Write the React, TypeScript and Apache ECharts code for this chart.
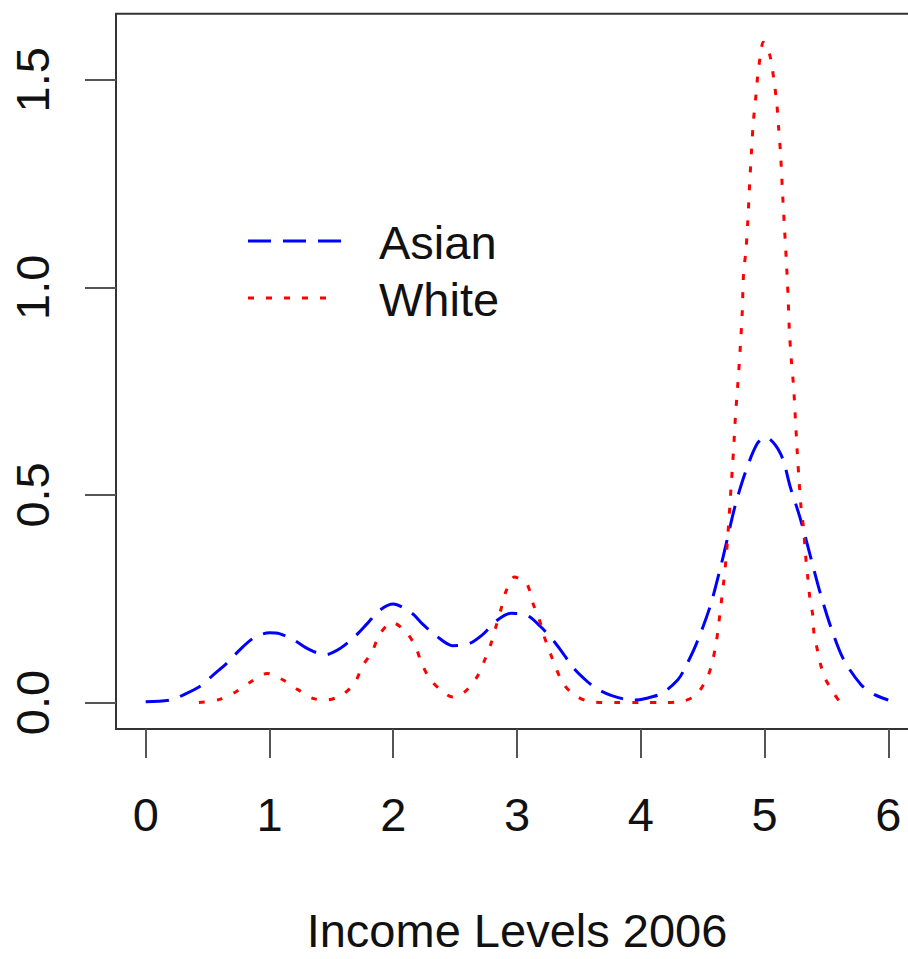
import React, { useEffect, useRef } from "react";
import * as echarts from "echarts";

const xTicks = [0, 1, 2, 3, 4, 5, 6];
const yTicks = [0, 0.5, 1.0, 1.5];
const seriesNames = ["Asian", "White"];
const xTitle = "Income Levels 2006";

const asianDensity: [number, number][] = [
  [0.0, 0.002], [0.2, 0.006], [0.31, 0.019], [0.45, 0.041], [0.54, 0.065],
  [0.66, 0.096], [0.76, 0.127], [0.88, 0.157], [1.0, 0.168], [1.08, 0.166],
  [1.2, 0.15], [1.32, 0.128], [1.45, 0.115], [1.57, 0.13], [1.69, 0.159],
  [1.79, 0.19], [1.89, 0.222], [2.0, 0.237], [2.15, 0.215], [2.24, 0.188],
  [2.35, 0.16], [2.48, 0.137], [2.6, 0.14], [2.72, 0.163], [2.84, 0.198],
  [2.95, 0.215], [3.08, 0.21], [3.19, 0.183], [3.3, 0.147], [3.38, 0.115],
  [3.46, 0.082], [3.57, 0.05], [3.64, 0.034], [3.76, 0.017], [3.87, 0.008],
  [3.95, 0.006], [4.03, 0.009], [4.17, 0.022], [4.3, 0.055], [4.35, 0.079],
  [4.45, 0.142], [4.56, 0.231], [4.64, 0.32], [4.69, 0.382], [4.76, 0.471],
  [4.84, 0.55], [4.94, 0.623], [5.01, 0.639], [5.13, 0.599], [5.21, 0.517],
  [5.29, 0.442], [5.37, 0.353], [5.45, 0.264], [5.54, 0.178], [5.64, 0.103],
  [5.78, 0.043], [5.89, 0.019], [6.0, 0.006],
];

const whiteDensity: [number, number][] = [
  [0.43, 0.0], [0.59, 0.007], [0.73, 0.026], [0.85, 0.05], [0.98, 0.07],
  [1.1, 0.056], [1.23, 0.031], [1.35, 0.01], [1.46, 0.006], [1.59, 0.019],
  [1.69, 0.048], [1.75, 0.087], [1.83, 0.123], [1.89, 0.164], [1.99, 0.193],
  [2.1, 0.171], [2.18, 0.135], [2.23, 0.094], [2.3, 0.055], [2.4, 0.026],
  [2.48, 0.013], [2.58, 0.026], [2.68, 0.063], [2.74, 0.103], [2.79, 0.142],
  [2.83, 0.183], [2.87, 0.224], [2.91, 0.267], [2.98, 0.302], [3.08, 0.285],
  [3.13, 0.238], [3.18, 0.2], [3.22, 0.159], [3.27, 0.118], [3.32, 0.079],
  [3.38, 0.043], [3.46, 0.019], [3.59, 0.002], [3.8, 0.0], [4.0, 0.0],
  [4.2, 0.0], [4.35, 0.004], [4.45, 0.019], [4.54, 0.062], [4.58, 0.1],
  [4.61, 0.145], [4.63, 0.19], [4.65, 0.24], [4.67, 0.29], [4.69, 0.35],
  [4.71, 0.43], [4.73, 0.52], [4.75, 0.61], [4.765, 0.69], [4.785, 0.77],
  [4.805, 0.86], [4.82, 0.94], [4.83, 1.03], [4.85, 1.09], [4.865, 1.16],
  [4.88, 1.25], [4.895, 1.33], [4.91, 1.4], [4.93, 1.46], [4.945, 1.51],
  [4.965, 1.555], [4.99, 1.59], [5.02, 1.58], [5.05, 1.55], [5.08, 1.49],
  [5.1, 1.44], [5.115, 1.38], [5.13, 1.32], [5.145, 1.23], [5.16, 1.15],
  [5.175, 1.07], [5.19, 0.98], [5.2, 0.9], [5.215, 0.83], [5.235, 0.76],
  [5.25, 0.68], [5.265, 0.6], [5.28, 0.53], [5.295, 0.47], [5.315, 0.42],
  [5.33, 0.36], [5.35, 0.3], [5.365, 0.255], [5.39, 0.21], [5.4, 0.166],
  [5.43, 0.123], [5.45, 0.095], [5.49, 0.058], [5.56, 0.022], [5.6, 0.005],
];

const FONT = "'Liberation Sans', Arial, Helvetica, sans-serif";
const BLUE_DASH = [23, 12];
const RED_DOT = [6, 12];

export default function App() {
  const ref = useRef<HTMLDivElement>(null);
  useEffect(() => {
    if (!ref.current) return;
    const chart = echarts.init(ref.current, null, { renderer: "svg" });
    chart.setOption({
      animation: false,
      backgroundColor: "#ffffff",
      textStyle: { fontFamily: FONT },
      grid: {
        left: 116,
        top: 13.8,
        width: 802,
        height: 718.8,
        show: true,
        borderColor: "#333333",
        borderWidth: 2,
        backgroundColor: "transparent",
      },
      xAxis: {
        type: "value",
        min: -0.24,
        max: 6.24,
        name: xTitle,
        nameLocation: "middle",
        nameGap: 178,
        nameTextStyle: { fontSize: 47, color: "#111", fontFamily: FONT },
        axisLine: { show: false, onZero: false },
        splitLine: { show: false },
        axisTick: {
          show: true,
          length: 29,
          customValues: xTicks,
          lineStyle: { color: "#555555", width: 2 },
        },
        axisLabel: {
          customValues: xTicks,
          margin: 62,
          fontSize: 47,
          color: "#111",
          fontFamily: FONT,
          formatter: (v: number) => String(v),
        },
      },
      yAxis: {
        type: "value",
        min: -0.0638,
        max: 1.6588,
        axisLine: { show: false, onZero: false },
        splitLine: { show: false },
        axisTick: {
          show: true,
          length: 31,
          customValues: yTicks,
          lineStyle: { color: "#555555", width: 2 },
        },
        axisLabel: {
          customValues: yTicks,
          rotate: 90,
          margin: 60,
          fontSize: 47,
          color: "#111",
          fontFamily: FONT,
          formatter: (v: number) => v.toFixed(1),
        },
      },
      series: [
        {
          name: seriesNames[0],
          type: "line",
          data: asianDensity,
          smooth: 0.3,
          showSymbol: false,
          symbol: "none",
          lineStyle: { color: "#0000ff", width: 3, type: BLUE_DASH, cap: "butt" },
        },
        {
          name: seriesNames[1],
          type: "line",
          data: whiteDensity,
          smooth: 0.3,
          showSymbol: false,
          symbol: "none",
          lineStyle: { color: "#ff0000", width: 3, type: RED_DOT, cap: "butt" },
        },
      ],
      graphic: [
        {
          type: "line",
          shape: { x1: 248, y1: 241, x2: 342, y2: 241 },
          style: { stroke: "#0000ff", lineWidth: 3, lineDash: BLUE_DASH },
        },
        {
          type: "line",
          shape: { x1: 248, y1: 298, x2: 334, y2: 298 },
          style: { stroke: "#ff0000", lineWidth: 3, lineDash: RED_DOT },
        },
        {
          type: "text",
          x: 379,
          y: 242,
          style: {
            text: seriesNames[0],
            fontSize: 47,
            fontFamily: FONT,
            fill: "#111",
            verticalAlign: "middle",
            align: "left",
          },
        },
        {
          type: "text",
          x: 379,
          y: 299,
          style: {
            text: seriesNames[1],
            fontSize: 47,
            fontFamily: FONT,
            fill: "#111",
            verticalAlign: "middle",
            align: "left",
          },
        },
      ],
    });
    return () => chart.dispose();
  }, []);
  return (
    <div
      ref={ref}
      style={{ position: "fixed", left: 0, top: 0, width: 930, height: 959, background: "#fff" }}
    />
  );
}
